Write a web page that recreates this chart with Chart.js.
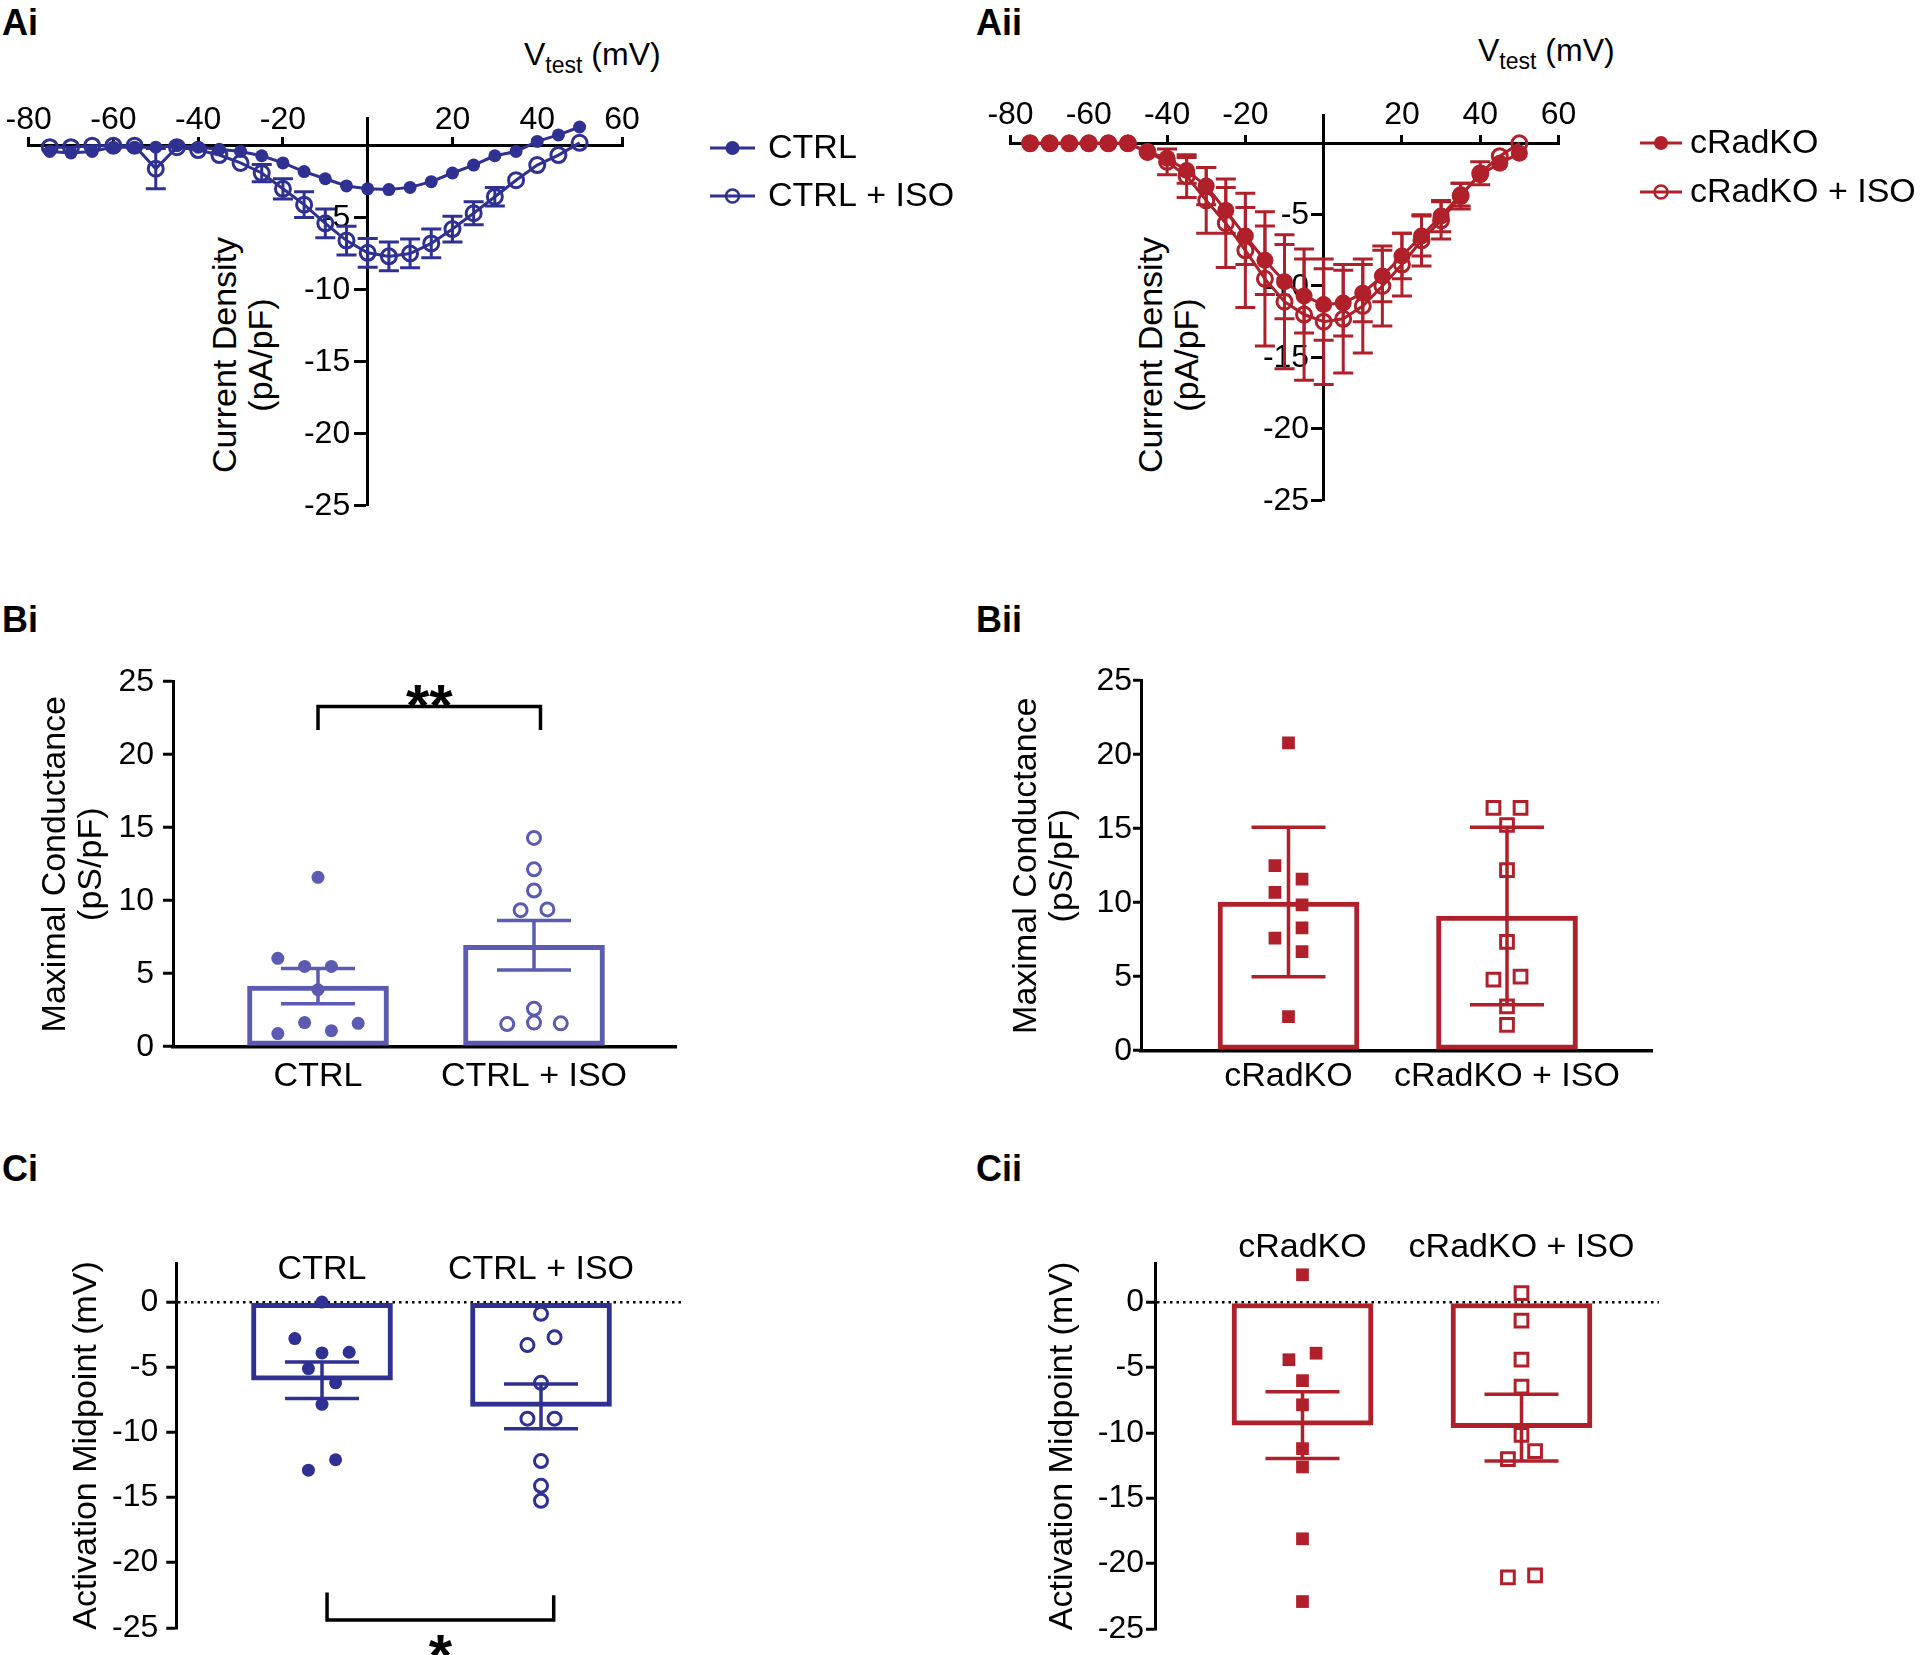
<!DOCTYPE html>
<html>
<head>
<meta charset="utf-8">
<script src="https://cdn.jsdelivr.net/npm/chart.js@4.4.1/dist/chart.umd.min.js"></script>
<style>
  html, body { margin: 0; padding: 0; background: #fff; }
  body { width: 1920px; height: 1655px; position: relative; overflow: hidden; font-family: 'Liberation Sans', Arial, sans-serif; color: #000; }
  canvas { position: absolute; }
  .panel { position: absolute; font-weight: bold; font-size: 36px; line-height: 36px; }
  .vtest { position: absolute; font-size: 32px; line-height: 32px; white-space: nowrap; }
  .vtest sub { font-size: 23px; line-height: 0; vertical-align: -8px; }
  .ytitle { position: absolute; font-size: 34px; line-height: 36px; text-align: center; white-space: nowrap; transform: translate(-50%, -50%) rotate(-90deg); }
</style>
</head>
<body>
<div class="panel" style="left:2px;top:5px">Ai</div>
<div class="panel" style="left:976px;top:5px">Aii</div>
<div class="panel" style="left:2px;top:602px">Bi</div>
<div class="panel" style="left:976px;top:602px">Bii</div>
<div class="panel" style="left:2px;top:1151px">Ci</div>
<div class="panel" style="left:976px;top:1151px">Cii</div>

<div class="vtest" style="left:524px;top:38px">V<sub>test</sub> (mV)</div>
<div class="vtest" style="left:1478px;top:34px">V<sub>test</sub> (mV)</div>
<div class="ytitle" style="left:242px;top:355px">Current Density<br>(pA/pF)</div>
<div class="ytitle" style="left:1168px;top:355px">Current Density<br>(pA/pF)</div>

<canvas id="ivCtrl" width="960" height="560" style="left:0px;top:0px"></canvas>
<canvas id="ivKo" width="960" height="560" style="left:960px;top:0px"></canvas>
<canvas id="gmaxCtrl" width="720" height="520" style="left:0px;top:590px"></canvas>
<canvas id="gmaxKo" width="720" height="520" style="left:960px;top:590px"></canvas>
<canvas id="vhCtrl" width="720" height="515" style="left:0px;top:1140px"></canvas>
<canvas id="vhKo" width="720" height="515" style="left:960px;top:1140px"></canvas>

<script>
// ---- data ----
const vtest = [-75, -70, -65, -60, -55, -50, -45, -40, -35, -30, -25, -20, -15, -10, -5, 0, 5, 10, 15, 20, 25, 30, 35, 40, 45, 50];

const ctrlI      = [-0.4, -0.5, -0.4, -0.1, -0.1, -0.1, 0, -0.1, -0.25, -0.4, -0.7, -1.2, -1.8, -2.3, -2.8, -3.0, -3.05, -2.9, -2.5, -1.9, -1.35, -0.7, -0.4, 0.3, 0.75, 1.3];
const ctrlSem    = [0.2, 0.2, 0.2, 0.1, 0.1, 0.1, 0.1, 0.1, 0.15, 0.2, 0.25, 0.3, 0.35, 0.4, 0.4, 0.4, 0.4, 0.4, 0.4, 0.35, 0.3, 0.3, 0.25, 0.2, 0.2, 0.2];
const ctrlIsoI   = [-0.1, -0.1, 0, 0, 0, -1.6, -0.1, -0.3, -0.65, -1.2, -1.9, -3.0, -4.1, -5.4, -6.6, -7.45, -7.7, -7.5, -6.8, -5.8, -4.7, -3.55, -2.4, -1.35, -0.65, 0.2];
const ctrlIsoSem = [0.1, 0.1, 0.1, 0.1, 0.1, 1.4, 0.1, 0.2, 0.3, 0.4, 0.6, 0.7, 0.9, 1.0, 1.0, 1.0, 1.0, 1.0, 1.0, 0.9, 0.8, 0.65, 0.55, 0.35, 0.25, 0.15];

const koI        = [0, 0, 0, 0, 0, 0, -0.6, -1.05, -1.9, -3.0, -4.7, -6.5, -8.2, -9.7, -10.7, -11.3, -11.2, -10.5, -9.3, -7.9, -6.5, -5.1, -3.6, -2.2, -1.4, -0.7];
const koSem      = [0.05, 0.05, 0.05, 0.05, 0.05, 0.05, 0.2, 0.5, 0.9, 1.3, 1.6, 2.0, 2.4, 2.6, 2.6, 2.5, 2.3, 2.0, 1.8, 1.6, 1.4, 1.1, 0.8, 0.6, 0.3, 0.2];
const koIsoI     = [0, 0, 0, 0, 0, 0, -0.6, -1.3, -2.3, -4.0, -5.6, -7.5, -9.5, -11.1, -12.0, -12.5, -12.3, -11.4, -10.0, -8.5, -6.8, -5.4, -3.7, -2.1, -0.9, 0.0];
const koIsoSem   = [0.05, 0.05, 0.05, 0.05, 0.05, 0.05, 0.3, 0.9, 1.5, 2.3, 3.1, 4.0, 4.7, 4.7, 4.6, 4.4, 3.8, 3.3, 2.8, 2.2, 1.8, 1.3, 0.9, 0.8, 0.4, 0.2];

const ivXTicks = [-80, -60, -40, -20, 20, 40, 60];
const ivYTicks = [-5, -10, -15, -20, -25];

const ctrlGroups = ['CTRL', 'CTRL + ISO'];
const koGroups = ['cRadKO', 'cRadKO + ISO'];

// maximal conductance (pS/pF)
const gmaxTicks = [0, 5, 10, 15, 20, 25];
const gmaxCtrlMean = [4.15, 6.95];
const gmaxCtrlSem = [1.2, 1.7];
const gmaxCtrl = [6.05, 5.5, 5.5, 3.9, 11.6, 1.65, 1.6, 0.9, 1.1];
const gmaxCtrlJit = [-3, -1, 1, 0, 0, -1, 3, -3, 1];
const gmaxCtrlIso = [14.3, 12.15, 10.7, 9.35, 9.4, 2.6, 1.55, 1.65, 1.6];
const gmaxCtrlIsoJit = [0, 0, 0, -1, 1, 0, -2, 0, 2];

const gmaxKoMean = [10.05, 9.1];
const gmaxKoSem = [5.05, 6.0];
const gmaxKo = [20.8, 12.5, 11.6, 10.7, 9.85, 8.3, 7.6, 6.7, 2.3];
const gmaxKoJit = [0, -1, 1, -1, 1, 1, -1, 1, 0];
const gmaxKoIso = [16.4, 16.4, 15.25, 12.2, 7.35, 4.8, 5.0, 3.0, 1.75];
const gmaxKoIsoJit = [-1, 1, 0, 0, 0, -1, 1, 0, 0];

// activation midpoint (mV)
const vhTicks = [0, -5, -10, -15, -20, -25];
const vhCtrlMean = [-6.0, -8.0];
const vhCtrlSem = [1.4, 1.72];
const vhCtrl = [0, -2.8, -3.9, -3.85, -5.1, -6.2, -7.85, -12.1, -12.9];
const vhCtrlJit = [0, -2, 0, 2, -1, 1, 0, 1, -1];
const vhCtrlIso = [-0.9, -2.7, -3.3, -6.2, -8.95, -8.95, -12.2, -14.1, -15.25];
const vhCtrlIsoJit = [0, 1, -1, 0, -1, 1, 0, 0, 0];

const vhKoMean = [-9.4, -9.6];
const vhKoSem = [2.55, 2.55];
const vhKo = [2.1, -4.4, -3.9, -6.0, -7.85, -11.2, -12.6, -18.1, -22.9];
const vhKoJit = [0, -1, 1, 0, 0, 0, 0, 0, 0];
const vhKoIso = [0.7, -1.4, -4.4, -6.45, -10.15, -11.4, -12.0, -21.05, -20.9];
const vhKoIsoJit = [0, 0, 0, 0, 0, 1, -1, -1, 1];

// ---- styles ----
const navy = '#2F3192';
const lavender = '#5B5BB1';
const red = '#B0202A';
const font = "'Liberation Sans', Arial, sans-serif";

Chart.defaults.font.family = font;
Chart.defaults.color = '#000';

// error bars on the I-V curves
const ivErrorBars = {
  id: 'ivErrorBars',
  beforeDatasetsDraw(chart) {
    const {ctx, scales: {x, y}} = chart;
    ctx.save();
    ctx.lineWidth = 3;
    chart.data.datasets.forEach(ds => {
      ctx.strokeStyle = ds.borderColor;
      ds.data.forEach((p, i) => {
        const px = x.getPixelForValue(p.x);
        const hi = y.getPixelForValue(p.y + ds.sem[i]);
        const lo = y.getPixelForValue(p.y - ds.sem[i]);
        if ((lo - hi) / 2 <= ds.pointRadius + 1) return;
        ctx.beginPath();
        ctx.moveTo(px, hi); ctx.lineTo(px, lo);
        ctx.moveTo(px - 10, hi); ctx.lineTo(px + 10, hi);
        ctx.moveTo(px - 10, lo); ctx.lineTo(px + 10, lo);
        ctx.stroke();
      });
    });
    ctx.restore();
  }
};

// y tick labels of the crossing axis, placed left of the x = 0 line
const ivYLabels = {
  id: 'ivYLabels',
  beforeDatasetsDraw(chart, args, opts) {
    const {ctx, scales: {x, y}} = chart;
    const right = x.getPixelForValue(0) - opts.offset;
    ctx.save();
    ctx.font = '32px ' + font;
    ctx.fillStyle = '#000';
    ctx.textAlign = 'right';
    ctx.textBaseline = 'middle';
    y.ticks.forEach(t => ctx.fillText(t.label, right, y.getPixelForValue(t.value) + 1));
    ctx.restore();
  }
};

const ivLegend = {
  id: 'ivLegend',
  afterDraw(chart, args, opts) {
    const ctx = chart.ctx;
    ctx.save();
    ctx.font = '34px ' + font;
    ctx.textBaseline = 'middle';
    chart.data.datasets.forEach((ds, i) => {
      const yy = opts.rows[i];
      const mx = (opts.x0 + opts.x1) / 2;
      ctx.strokeStyle = ds.borderColor;
      ctx.lineWidth = 3;
      ctx.beginPath();
      ctx.moveTo(opts.x0, yy); ctx.lineTo(opts.x1, yy);
      ctx.stroke();
      ctx.beginPath();
      if (ds.open) {
        ctx.lineWidth = 2.5;
        ctx.arc(mx, yy, 6.5, 0, Math.PI * 2);
        ctx.stroke();
      } else {
        ctx.fillStyle = ds.borderColor;
        ctx.arc(mx, yy, 7, 0, Math.PI * 2);
        ctx.fill();
      }
      ctx.fillStyle = '#000';
      ctx.fillText(ds.label, opts.textX, yy + 1);
    });
    ctx.restore();
  }
};

function ivDataset(label, values, sem, color, open, radius) {
  return {
    label: label,
    data: vtest.map((v, i) => ({x: v, y: values[i]})),
    sem: sem,
    open: open,
    borderColor: color,
    borderWidth: 3,
    pointRadius: radius,
    pointStyle: 'circle',
    pointBorderWidth: open ? 3 : 0,
    pointBorderColor: color,
    pointBackgroundColor: open ? 'rgba(0,0,0,0)' : color,
    tension: 0
  };
}

function ivChart(id, datasets, yMax, padding, xPad, yTick, yLabelOffset, legend) {
  return new Chart(document.getElementById(id), {
    type: 'line',
    data: {datasets: datasets},
    options: {
      responsive: false,
      animation: false,
      layout: {autoPadding: false, padding: padding},
      plugins: {
        legend: {display: false}, tooltip: {enabled: false},
        ivLegend: legend, ivYLabels: {offset: yLabelOffset}
      },
      scales: {
        x: {
          type: 'linear', min: -80, max: 60,
          position: {y: 0},
          afterBuildTicks: s => { s.ticks = ivXTicks.map(v => ({value: v})); },
          afterFit: s => { s.height = 0; },
          grid: {drawOnChartArea: false, drawTicks: true, tickLength: -10, tickWidth: 3, tickColor: '#000'},
          border: {display: true, color: '#000', width: 3},
          ticks: {padding: xPad, maxRotation: 0, autoSkip: false, font: {size: 32}, color: '#000'}
        },
        y: {
          type: 'linear', min: -25, max: yMax,
          position: {x: 0},
          afterBuildTicks: s => { s.ticks = ivYTicks.map(v => ({value: v})); },
          afterFit: s => { s.width = 0; },
          grid: {drawOnChartArea: false, drawTicks: true, tickLength: yTick, tickWidth: 3, tickColor: '#000'},
          border: {display: true, color: '#000', width: 3},
          ticks: {display: false, autoSkip: false}
        }
      }
    },
    plugins: [ivYLabels, ivErrorBars, ivLegend]
  });
}

// mean +/- error on bar panels
const barErrors = {
  id: 'barErrors',
  afterDatasetsDraw(chart) {
    const {ctx, scales: {x, y}} = chart;
    chart.data.datasets.forEach(ds => {
      if (!ds.sem) return;
      ctx.save();
      ctx.strokeStyle = ds.borderColor;
      ctx.lineWidth = 3.5;
      ds.data.forEach((p, i) => {
        const px = x.getPixelForValue(p.x);
        const hi = y.getPixelForValue(p.y + ds.sem[i]);
        const lo = y.getPixelForValue(p.y - ds.sem[i]);
        ctx.beginPath();
        ctx.moveTo(px, hi); ctx.lineTo(px, lo);
        ctx.moveTo(px - 37, hi); ctx.lineTo(px + 37, hi);
        ctx.moveTo(px - 37, lo); ctx.lineTo(px + 37, lo);
        ctx.stroke();
      });
      ctx.restore();
    });
  }
};

const sigBracket = {
  id: 'sigBracket',
  afterDatasetsDraw(chart, args, opts) {
    const {ctx, scales: {x, y}} = chart;
    const x1 = x.getPixelForValue(opts.from);
    const x2 = x.getPixelForValue(opts.to);
    const yl = y.getPixelForValue(opts.level);
    ctx.save();
    ctx.strokeStyle = '#000';
    ctx.lineWidth = 3.5;
    ctx.beginPath();
    ctx.moveTo(x1, y.getPixelForValue(opts.legs[0]));
    ctx.lineTo(x1, yl);
    ctx.lineTo(x2, yl);
    ctx.lineTo(x2, y.getPixelForValue(opts.legs[1]));
    ctx.stroke();
    ctx.fillStyle = '#000';
    ctx.font = 'bold 60px ' + font;
    ctx.textAlign = 'center';
    ctx.textBaseline = 'alphabetic';
    ctx.fillText(opts.text, (x1 + x2) / 2, y.getPixelForValue(opts.textAt) + 34);
    ctx.restore();
  }
};

// group names written above the bars (C panels)
const groupLabels = {
  id: 'groupLabels',
  afterDraw(chart, args, opts) {
    const {ctx, scales: {x, y}} = chart;
    ctx.save();
    ctx.font = '34px ' + font;
    ctx.fillStyle = '#000';
    ctx.textAlign = 'center';
    ctx.textBaseline = 'middle';
    x.ticks.forEach(t => ctx.fillText(t.label, x.getPixelForValue(t.value), y.getPixelForValue(opts.at)));
    ctx.restore();
  }
};

function dotBarChart(id, o) {
  const bars = {
    type: 'bar',
    data: o.means.map((m, i) => ({x: i + 1, y: m})),
    sem: o.sems,
    backgroundColor: '#fff',
    borderColor: o.color,
    borderWidth: 5,
    borderSkipped: false,
    barThickness: 141,
    order: 3
  };
  const dots = o.points.map((vals, g) => ({
    type: 'scatter',
    data: vals.map((v, i) => ({x: g + 1 + o.jitter[g][i] * 0.062, y: v})),
    pointStyle: o.marker,
    pointRadius: o.radius,
    pointBorderWidth: g === 1 ? 3 : 0,
    pointBorderColor: o.color,
    pointBackgroundColor: g === 1 ? 'rgba(0,0,0,0)' : o.color,
    order: 1
  }));
  return new Chart(document.getElementById(id), {
    type: 'bar',
    data: {datasets: [bars].concat(dots)},
    options: {
      responsive: false,
      animation: false,
      layout: {autoPadding: false, padding: o.padding},
      plugins: {
        legend: {display: false}, tooltip: {enabled: false},
        sigBracket: o.bracket || false,
        groupLabels: o.labelsAt !== undefined ? {at: o.labelsAt} : false
      },
      scales: {
        x: {
          type: 'linear', position: o.labelsAt !== undefined ? 'top' : 'bottom',
          min: o.xRange[0], max: o.xRange[1], offset: false,
          afterBuildTicks: s => { s.ticks = [{value: 1}, {value: 2}]; },
          afterFit: s => { s.height = o.xHeight; },
          grid: {display: false, drawTicks: false},
          border: {display: o.labelsAt === undefined, color: '#000', width: 3.5},
          ticks: {display: o.labelsAt === undefined, padding: o.xPad, font: {size: 34}, color: '#000',
                  maxRotation: 0, autoSkip: false, callback: v => o.groups[v - 1]}
        },
        y: {
          type: 'linear', position: 'left', min: o.yRange[0], max: o.yRange[1],
          afterBuildTicks: s => { s.ticks = o.yTicks.map(v => ({value: v})); },
          afterFit: s => { s.width = o.yWidth; },
          grid: {
            drawOnChartArea: !!o.zeroLine,
            color: c => (o.zeroLine && c.tick && c.tick.value === 0) ? '#000' : 'rgba(0,0,0,0)',
            lineWidth: 2.5,
            tickColor: '#000', tickWidth: 3, tickLength: o.tickLen, tickBorderDash: []
          },
          border: {color: '#000', width: 3, dash: o.zeroLine ? [2.5, 4] : []},
          ticks: {padding: o.yPad, font: {size: 32}, color: '#000', autoSkip: false},
          title: {display: true, text: o.title, color: '#000', font: {size: 34, lineHeight: 1.05},
                  padding: {top: o.titlePad, bottom: 0}}
        }
      }
    },
    plugins: [barErrors, sigBracket, groupLabels]
  });
}

// ---- A: current-voltage ----
ivChart('ivCtrl', [
  ivDataset('CTRL', ctrlI, ctrlSem, navy, false, 6.5),
  ivDataset('CTRL + ISO', ctrlIsoI, ctrlIsoSem, navy, true, 7.5)
], 1.9, {left: 28.6, top: 118.4, right: 338, bottom: 55}, -35, 12, 17.5,
  {x0: 710, x1: 755, textX: 768, rows: [148, 196]});

ivChart('ivKo', [
  ivDataset('cRadKO', koI, koSem, red, false, 8.5),
  ivDataset('cRadKO + ISO', koIsoI, koIsoSem, red, true, 7.5)
], 1.95, {left: 50.5, top: 115.5, right: 361.5, bottom: 60}, -37, 11, 14.5,
  {x0: 680, x1: 722, textX: 730, rows: [143, 192]});

// ---- B: maximal conductance ----
dotBarChart('gmaxCtrl', {
  groups: ctrlGroups, means: gmaxCtrlMean, sems: gmaxCtrlSem,
  points: [gmaxCtrl, gmaxCtrlIso], jitter: [gmaxCtrlJit, gmaxCtrlIsoJit],
  color: lavender, marker: 'circle', radius: 6.5,
  xRange: [0.3287, 2.6574], yRange: [0, 25], yTicks: gmaxTicks,
  padding: {left: 0, top: 91.7, right: 44, bottom: 0},
  yWidth: 173, xHeight: 63.3, xPad: 10, tickLen: 10, yPad: 9,
  title: ['Maximal Conductance', '(pS/pF)'], titlePad: 38,
  bracket: {from: 1, to: 2.03, level: 23.3, legs: [21.7, 21.7], text: '**', textAt: 24.3}
});

dotBarChart('gmaxKo', {
  groups: koGroups, means: gmaxKoMean, sems: gmaxKoSem,
  points: [gmaxKo, gmaxKoIso], jitter: [gmaxKoJit, gmaxKoIsoJit],
  color: red, marker: 'rect', radius: 9,
  xRange: [0.325, 2.6636], yRange: [0, 25], yTicks: gmaxTicks,
  padding: {left: 0, top: 90.7, right: 28, bottom: 0},
  yWidth: 181, xHeight: 59.3, xPad: 6, tickLen: 8, yPad: 1,
  title: ['Maximal Conductance', '(pS/pF)'], titlePad: 49
});

// ---- C: activation midpoint ----
dotBarChart('vhCtrl', {
  groups: ctrlGroups, means: vhCtrlMean, sems: vhCtrlSem,
  points: [vhCtrl, vhCtrlIso], jitter: [vhCtrlJit, vhCtrlIsoJit],
  color: navy, marker: 'circle', radius: 6.5,
  xRange: [0.3347, 2.6484], yRange: [-25, 3], yTicks: vhTicks, zeroLine: true,
  labelsAt: 2.5,
  padding: {left: 0, top: 123, right: 37, bottom: 26},
  yWidth: 176.3, xHeight: 0, xPad: 0, tickLen: 10, yPad: 8,
  title: 'Activation Midpoint (mV)', titlePad: 69,
  bracket: {from: 1.023, to: 2.058, level: -24.4, legs: [-22.3, -22.5], text: '*', textAt: -26.1}
});

dotBarChart('vhKo', {
  groups: koGroups, means: vhKoMean, sems: vhKoSem,
  points: [vhKo, vhKoIso], jitter: [vhKoJit, vhKoIsoJit],
  color: red, marker: 'rect', radius: 9,
  xRange: [0.3265, 2.6279], yRange: [-25, 3], yTicks: vhTicks, zeroLine: true,
  labelsAt: 4.2,
  padding: {left: 0, top: 123, right: 21, bottom: 26},
  yWidth: 195, xHeight: 0, xPad: 0, tickLen: 9, yPad: 2,
  title: 'Activation Midpoint (mV)', titlePad: 85
});
</script>
</body>
</html>
